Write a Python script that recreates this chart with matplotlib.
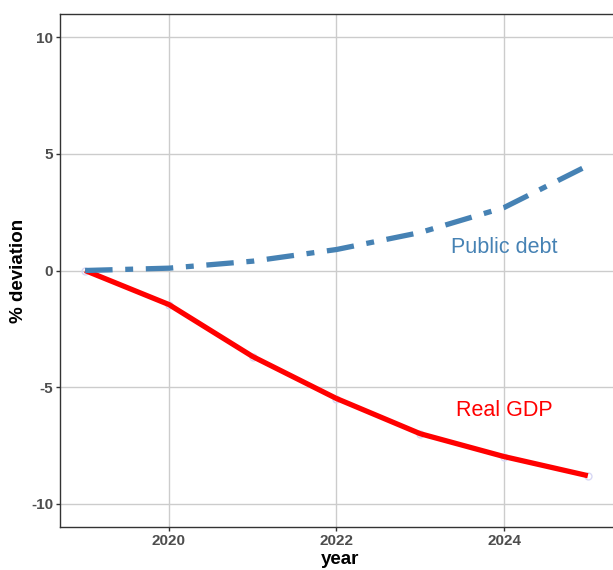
import matplotlib
matplotlib.use("Agg")
import matplotlib.pyplot as plt

plt.rcParams['font.family'] = ['Liberation Sans', 'DejaVu Sans']

years = [2019, 2020, 2021, 2022, 2023, 2024, 2025]
real_gdp = [0.0, -1.46, -3.69, -5.49, -7.0, -7.98, -8.8]
public_debt = [0.0, 0.1, 0.4, 0.9, 1.63, 2.7, 4.5]
x_ticks = [2020, 2022, 2024]
y_ticks = [-10, -5, 0, 5, 10]
series_labels = ["Public debt", "Real GDP"]

fig = plt.figure(figsize=(6.13, 5.7), dpi=100)
top_px, bottom_px, left_px = 14, 527, 60
ax = fig.add_axes([left_px / 613, 1 - bottom_px / 570,
                   (613 - left_px) / 613 + 0.01, (bottom_px - top_px) / 570])

ax.grid(True, color='#cccccc', linewidth=1.0, zorder=0)
ax.set_axisbelow(True)

ax.plot(years, real_gdp, linestyle='none', marker='o', markersize=5,
        markerfacecolor='none', markeredgecolor='#d8d8f4', markeredgewidth=1.0, zorder=2)

ax.plot(years, real_gdp, color='#ff0000', linewidth=3.8, solid_capstyle='butt', zorder=3)
ax.plot(years, public_debt, color='#4682b4', linewidth=3.8, dashes=(5.2, 2.4, 1.5, 2.4),
        dash_capstyle='butt', zorder=3)

ax.text(2024.0, 1.0, series_labels[0], color='#4682b4', fontsize=15.5, ha='center', va='center')
ax.text(2024.0, -6.0, series_labels[1], color='#ff0000', fontsize=15.5, ha='center', va='center')

ax.set_xlim(2018.7, 2025.3 + 0.01 * 6.6 / 0.9)
ax.set_ylim(-11, 11)
ax.set_xticks(x_ticks)
ax.set_yticks(y_ticks)
ax.set_xticklabels([str(t) for t in x_ticks], fontsize=11, fontweight='bold', color='#4d4d4d')
ax.set_yticklabels([str(t) for t in y_ticks], fontsize=11, fontweight='bold', color='#4d4d4d')
ax.tick_params(axis='both', length=3, width=1, color='#333333', pad=2)

for s in ax.spines.values():
    s.set_color('#333333')
    s.set_linewidth(1.0)

ax.set_xlabel('year', fontsize=13.5, fontweight='bold', labelpad=2)
ax.set_ylabel('% deviation', fontsize=13.5, fontweight='bold', labelpad=3)

fig.savefig('out.png', dpi=100, facecolor='white')
